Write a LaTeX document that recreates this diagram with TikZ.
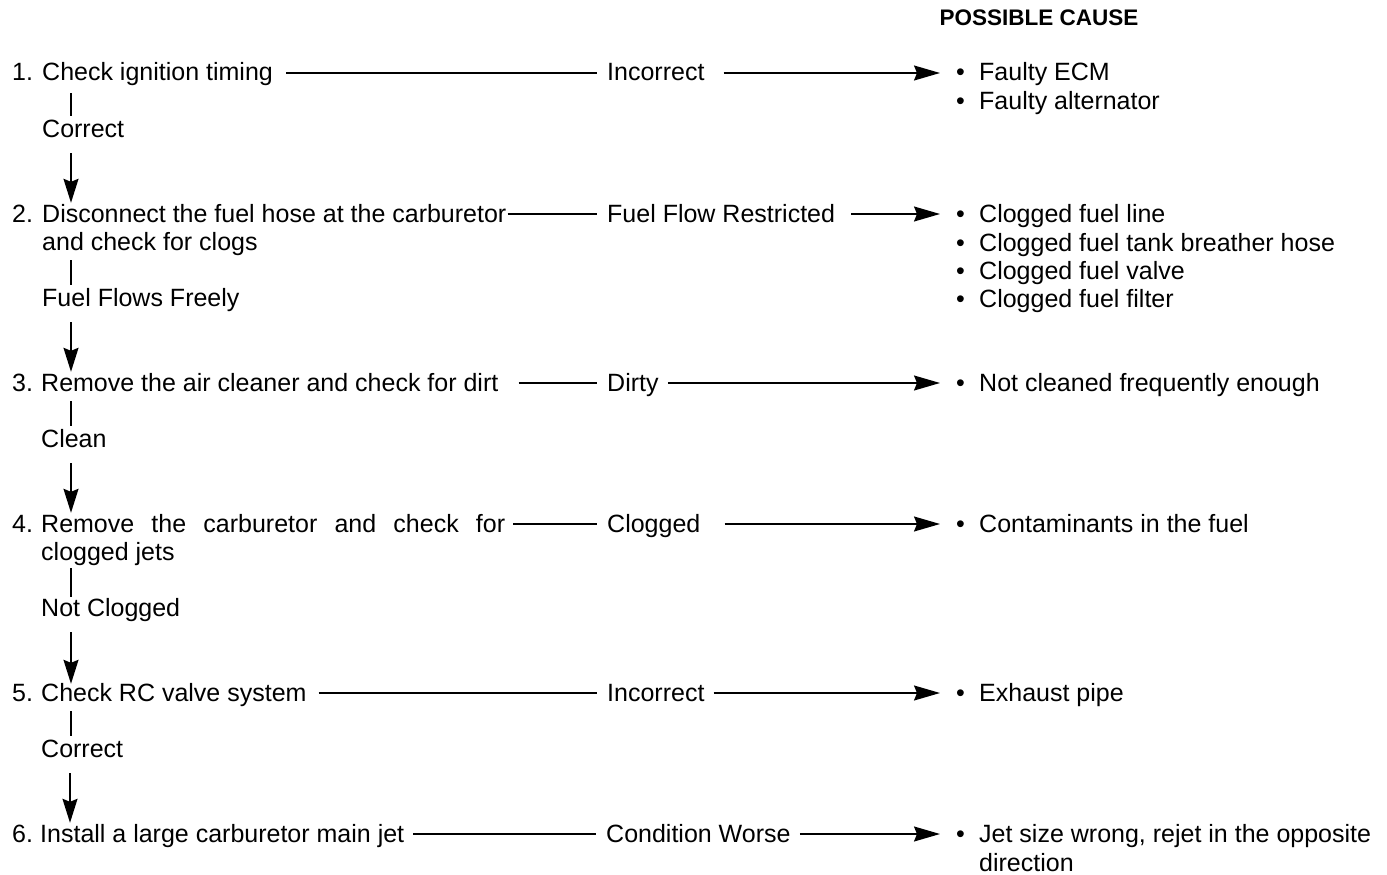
\documentclass[tikz,border=0pt]{standalone}
\usepackage{fontspec}
\setmainfont{Liberation Sans}
\usetikzlibrary{arrows.meta,calc}
\begin{document}
\begin{tikzpicture}[x=1pt,y=-1pt,
  txt/.style={font=\fontsize{25}{30}\selectfont, inner sep=0pt, text height=18pt, text depth=2pt, anchor=west},
  head/.style={font=\fontsize{22.5}{27}\selectfont\bfseries, inner sep=0pt, text height=17pt, text depth=1pt},
  conn/.style={line width=1.5pt},
  arr/.style={line width=1.5pt, -{Stealth[length=26pt,width=15pt,inset=3pt]}},
  varr/.style={line width=1.5pt, -{Stealth[length=24pt,width=15pt,inset=3pt]}}
]
\useasboundingbox[fill=white] (0,0) rectangle (1387,875);

\node[head] (title) at (1039,18) {POSSIBLE CAUSE};

% ---------- Row 1
\node[txt] (n1) at (12,73) {1.};
\node[txt] (s1) at (42,73) {Check ignition timing};
\node[txt] (c1) at (607,73) {Incorrect};
\node[txt] (b1) at (956,73) {•};
\node[txt] (t1) at (979,73) {Faulty ECM};
\node[txt] (b1b) at (956,102) {•};
\node[txt] (t1b) at (979,102) {Faulty alternator};
\draw[conn] ([xshift=13pt]s1.east) -- ([xshift=-10pt]c1.west);
\draw[arr] ([xshift=19pt]c1.east) -- ([xshift=-16pt]b1.west);
\node[txt] (o1) at (42,129) {Correct};

% ---------- Row 2
\node[txt] (n2) at (12,214) {2.};
\node[txt] (s2) at (42,214) {Disconnect the fuel hose at the carburetor};
\node[txt] (s2b) at (42,242) {and check for clogs};
\node[txt] (c2) at (607,214) {Fuel Flow Restricted};
\node[txt] (b2) at (956,214) {•};
\node[txt] (t2) at (979,214) {Clogged fuel line};
\node[txt] (b2b) at (956,243) {•};
\node[txt] (t2b) at (979,243) {Clogged fuel tank breather hose};
\node[txt] (b2c) at (956,271) {•};
\node[txt] (t2c) at (979,271) {Clogged fuel valve};
\node[txt] (b2d) at (956,299) {•};
\node[txt] (t2d) at (979,299) {Clogged fuel filter};
\draw[conn] ([xshift=1pt]s2.east) -- ([xshift=-10pt]c2.west);
\draw[arr] ([xshift=16pt]c2.east) -- ([xshift=-16pt]b2.west);
\node[txt] (o2) at (42,298) {Fuel Flows Freely};

% ---------- Row 3
\node[txt] (n3) at (12,383) {3.};
\node[txt] (s3) at (41,383) {Remove the air cleaner and check for dirt};
\node[txt] (c3) at (607,383) {Dirty};
\node[txt] (b3) at (956,383) {•};
\node[txt] (t3) at (979,383) {Not cleaned frequently enough};
\draw[conn] ([xshift=20pt]s3.east) -- ([xshift=-10pt]c3.west);
\draw[arr] ([xshift=9pt]c3.east) -- ([xshift=-16pt]b3.west);
\node[txt] (o3) at (41,439) {Clean};

% ---------- Row 4
\node[txt] (n4) at (12,524) {4.};
\node[txt] (s4) at (41,524) {\hbox to 464pt{Remove\hfill the\hfill carburetor\hfill and\hfill check\hfill for}};
\node[txt] (s4b) at (41,552) {clogged jets};
\node[txt] (c4) at (607,524) {Clogged};
\node[txt] (b4) at (956,524) {•};
\node[txt] (t4) at (979,524) {Contaminants in the fuel};
\draw[conn] ([xshift=8pt]s4.east) -- ([xshift=-10pt]c4.west);
\draw[arr] ([xshift=24pt]c4.east) -- ([xshift=-16pt]b4.west);
\node[txt] (o4) at (41,608) {Not Clogged};

% ---------- Row 5
\node[txt] (n5) at (12,693) {5.};
\node[txt] (s5) at (41,693) {Check RC valve system};
\node[txt] (c5) at (607,693) {Incorrect};
\node[txt] (b5) at (956,693) {•};
\node[txt] (t5) at (979,693) {Exhaust pipe};
\draw[conn] ([xshift=12pt]s5.east) -- ([xshift=-10pt]c5.west);
\draw[arr] ([xshift=9pt]c5.east) -- ([xshift=-16pt]b5.west);
\node[txt] (o5) at (41,749) {Correct};

% ---------- Row 6
\node[txt] (n6) at (12,834) {6.};
\node[txt] (s6) at (40,834) {Install a large carburetor main jet};
\node[txt] (c6) at (606,834) {Condition Worse};
\node[txt] (b6) at (956,834) {•};
\node[txt] (t6) at (979,834) {Jet size wrong, rejet in the opposite};
\node[txt] (t6b) at (979,863) {direction};
\draw[conn] ([xshift=9pt]s6.east) -- ([xshift=-10pt]c6.west);
\draw[arr] ([xshift=9pt]c6.east) -- ([xshift=-16pt]b6.west);

% ---------- vertical connectors
\draw[conn] ($(s1.south west)+(29,10)$) -- ($(o1.north west)+(29,-3)$);
\draw[varr] ($(o1.south west)+(29,14)$) -- ($(s2.north west)+(29,-1)$);
\draw[conn] ($(s2b.south west)+(29,8)$) -- ($(o2.north west)+(29,-3)$);
\draw[varr] ($(o2.south west)+(29,14)$) -- ($(s3.north west)+(30,-1)$);
\draw[conn] ($(s3.south west)+(30,8)$) -- ($(o3.north west)+(30,-3)$);
\draw[varr] ($(o3.south west)+(30,14)$) -- ($(s4.north west)+(30,-1)$);
\draw[conn] ($(s4b.south west)+(30,6)$) -- ($(o4.north west)+(30,-1)$);
\draw[varr] ($(o4.south west)+(30,14)$) -- ($(s5.north west)+(30,1)$);
\draw[conn] ($(s5.south west)+(30,8)$) -- ($(o5.north west)+(30,-3)$);
\draw[varr] ($(o5.south west)+(29,14)$) -- ($(s6.north west)+(30,-1)$);
\end{tikzpicture}
\end{document}
